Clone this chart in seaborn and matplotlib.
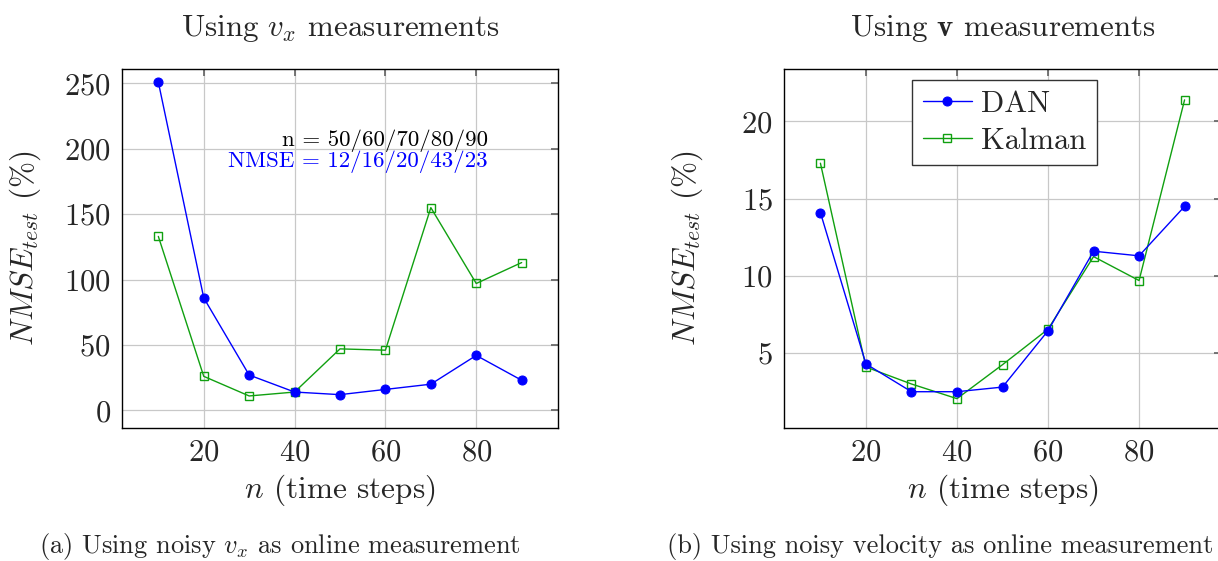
import numpy as np
import pandas as pd
import matplotlib
matplotlib.use("Agg")
import matplotlib.pyplot as plt
import seaborn as sns

# ---------------- data ----------------
steps = [10, 20, 30, 40, 50, 60, 70, 80, 90]
dan_vx = [251, 86, 27, 14, 12, 16, 20, 42, 23]
kalman_vx = [133, 26, 11, 14, 47, 46, 155, 97, 113]
dan_v = [14.1, 4.3, 2.5, 2.5, 2.8, 6.45, 11.6, 11.3, 14.5]
kalman_v = [17.3, 4.1, 3.0, 2.05, 4.25, 6.55, 11.25, 9.7, 21.4]
series_names = ["DAN", "Kalman"]
xticks = [20, 40, 60, 80]
yticks_left = [0, 50, 100, 150, 200, 250]
yticks_right = [5, 10, 15, 20]
annot_n = "n = 50/60/70/80/90"
annot_nmse = "NMSE = 12/16/20/43/23"

# ---------------- style ----------------
sns.set_theme(style="white")
plt.rcParams["font.family"] = ["cmr10", "DejaVu Serif"]
plt.rcParams["mathtext.fontset"] = "cm"
plt.rcParams["axes.formatter.use_mathtext"] = True
plt.rcParams["axes.unicode_minus"] = False

BLUE = "#0000ff"
GREEN = "#10a010"
TICK_FS = 22
LABEL_FS = 22.5
TITLE_FS = 22.3
CAP_FS = 19
ANN_FS = 16.5

W, H = 1218, 561
fig = plt.figure(figsize=(W / 100, H / 100), dpi=100)
fig.patch.set_facecolor("white")

def px_axes(l, r, t, b):
    return fig.add_axes([l / W, (H - b) / H, (r - l) / W, (b - t) / H])

ax1 = px_axes(122, 558, 69, 428)
ax2 = px_axes(784, 1221, 69, 428)

df1 = pd.DataFrame({"n": steps * 2, "val": dan_vx + kalman_vx,
                    "method": [series_names[0]] * len(steps) + [series_names[1]] * len(steps)})
df2 = pd.DataFrame({"n": steps * 2, "val": dan_v + kalman_v,
                    "method": [series_names[0]] * len(steps) + [series_names[1]] * len(steps)})

def draw(ax, df):
    d = df[df.method == series_names[0]]
    sns.lineplot(data=d, x="n", y="val", ax=ax, color=BLUE, lw=1.0,
                 marker="o", markersize=6.5, markerfacecolor=BLUE,
                 markeredgecolor=BLUE, label=series_names[0], zorder=4)
    k = df[df.method == series_names[1]]
    sns.lineplot(data=k, x="n", y="val", ax=ax, color=GREEN, lw=1.0,
                 marker="s", markersize=6.0, markerfacecolor="none",
                 markeredgecolor=GREEN, markeredgewidth=1.0,
                 label=series_names[1], zorder=3)
    ax.set_xlim(2, 98)
    ax.set_xticks(xticks)
    ax.grid(True, color="#c8c8c8", lw=0.9)
    ax.set_axisbelow(True)
    for s in ax.spines.values():
        s.set_color("black")
        s.set_linewidth(1.0)
    ax.tick_params(axis="both", which="both", direction="in", length=5,
                   color="#666666", top=True, right=True, labelsize=TICK_FS,
                   pad=8)
    ax.set_xlabel(r"$n$ (time steps)", fontsize=LABEL_FS, labelpad=4)
    ax.set_ylabel(r"$NMSE_{test}$ (%)", fontsize=LABEL_FS)
    ax.yaxis.set_label_coords(-79 / 437, 0.5)

draw(ax1, df1)
ax1.set_ylim(-13.5, 261)
ax1.set_yticks(yticks_left)
ax1.get_legend().remove()
ax1.text(82.6, 206, annot_n, ha="right", va="center", fontsize=ANN_FS, color="black")
ax1.text(82.6, 190, annot_nmse, ha="right", va="center", fontsize=ANN_FS, color=BLUE)

draw(ax2, df2)
ax2.set_ylim(0.15, 23.4)
ax2.set_yticks(yticks_right)
leg = ax2.legend(loc="upper left", bbox_to_anchor=((912 - 784) / 437, 1 - (80 - 69) / 359),
                 fontsize=22, frameon=True, fancybox=False, edgecolor="#333333",
                 framealpha=1, handlelength=1.6, handletextpad=0.3,
                 borderpad=0.35, labelspacing=0.3, borderaxespad=0)
leg.get_frame().set_linewidth(1.0)

fig.text(340 / W, 1 - 28 / H, r"Using $v_x$ measurements", ha="center", va="center",
         fontsize=TITLE_FS)
fig.text(1003 / W, 1 - 28 / H, r"Using $\mathbf{v}$ measurements", ha="center", va="center",
         fontsize=TITLE_FS)
fig.text(280 / W, 1 - 546 / H, r"(a) Using noisy $v_x$ as online measurement",
         ha="center", va="center", fontsize=CAP_FS)
fig.text(940 / W, 1 - 546 / H, r"(b) Using noisy velocity as online measurement",
         ha="center", va="center", fontsize=CAP_FS)

fig.savefig("out.png", dpi=100)
